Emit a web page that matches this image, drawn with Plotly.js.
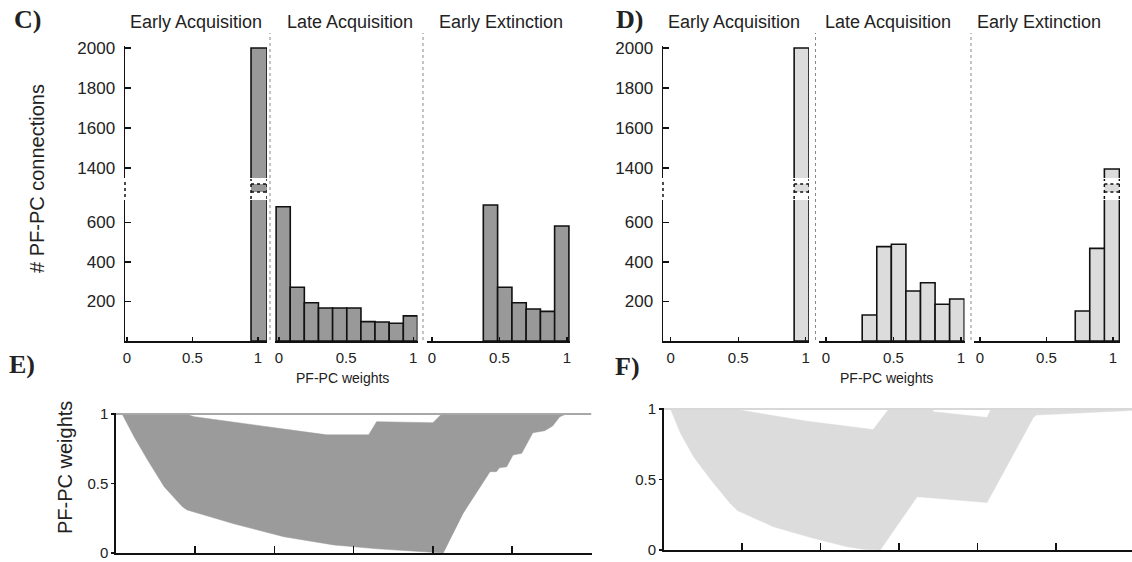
<!DOCTYPE html>
<html><head><meta charset="utf-8">
<script src="https://cdn.plot.ly/plotly-3.0.1.min.js"></script>
<style>html,body{margin:0;padding:0;background:#fff}</style>
</head><body><div id="chart" style="width:1132px;height:562px"></div>
<script>
// ---------------- DATA ----------------
const phaseNames = ['Early Acquisition', 'Late Acquisition', 'Early Extinction'];
const weightTicks = [0, 0.5, 1];
const weightTickText = ['0', '0.5', '1'];
const countTicksLow = [200, 400, 600];
const countTicksHigh = [1400, 1600, 1800, 2000];
const weightAxisTitle = 'PF-PC weights';
const countAxisTitle = '# PF-PC connections';
const panelLetters = ['C)', 'D)', 'E)', 'F)'];

// Panel C histograms (bin centre, count)
const cEarlyAcqBins = [1.008];
const cEarlyAcqCounts = [2000];
const cLateAcqBins = [0.031, 0.136, 0.241, 0.347, 0.452, 0.558, 0.663, 0.768, 0.874, 0.979];
const cLateAcqCounts = [680, 272, 194, 167, 167, 167, 98, 96, 90, 127];
const cEarlyExtBins = [0.433, 0.539, 0.645, 0.750, 0.856, 0.961];
const cEarlyExtCounts = [689, 272, 194, 162, 150, 582];

// Panel D histograms
const dEarlyAcqBins = [0.969];
const dEarlyAcqCounts = [2000];
const dLateAcqBins = [0.322, 0.430, 0.538, 0.646, 0.754, 0.862, 0.970];
const dLateAcqCounts = [132, 478, 490, 253, 295, 186, 213];
const dEarlyExtBins = [0.773, 0.882, 0.992];
const dEarlyExtCounts = [152, 469, 1395];

// Panel E: envelope of weight trajectories over time
const eUpperT = [0.08, 0.88, 0.99, 1.91, 2.66, 3.19, 3.29, 4.00, 4.11, 5.68];
const eUpperW = [1.00, 1.00, 0.98, 0.91, 0.85, 0.85, 0.945, 0.937, 1.00, 1.00];
const eLowerT = [0.08, 0.23, 0.40, 0.61, 0.84, 0.90, 1.49, 2.12, 2.75, 3.30, 3.58, 4.13, 4.38, 4.72, 4.80, 4.84, 4.93, 5.01, 5.12, 5.26, 5.41, 5.51, 5.60, 5.68];
const eLowerW = [1.00, 0.837, 0.67, 0.477, 0.333, 0.31, 0.21, 0.117, 0.058, 0.03, 0.02, 0.0, 0.285, 0.585, 0.585, 0.614, 0.62, 0.705, 0.717, 0.865, 0.88, 0.914, 0.98, 1.00];

// Panel F
const fUpperT = [0.09, 0.89, 1.83, 2.67, 2.87, 3.42, 3.44, 4.12, 4.17, 5.97];
const fUpperW = [1.00, 1.00, 0.913, 0.854, 1.00, 1.00, 0.98, 0.94, 1.00, 1.00];
const fLowerT = [0.09, 0.215, 0.385, 0.60, 0.85, 0.94, 1.40, 1.91, 2.34, 2.55, 2.76, 3.23, 4.12, 4.71, 4.75, 5.30, 5.97];
const fLowerW = [1.00, 0.83, 0.66, 0.50, 0.33, 0.28, 0.165, 0.083, 0.023, 0.005, 0.0, 0.378, 0.336, 0.94, 0.957, 0.97, 0.99];
const timeTicks = [1, 2, 3, 4, 5, 6];

// ---------------- LAYOUT HELPERS ----------------
const W = 1132, H = 562;
const px = x => x / W;
const py = y => 1 - y / H;
const FONT = 'Liberation Sans, Arial, Helvetica, sans-serif';
const INK = '#111';
const TXT = '#222';
const DARK = '#999999', LIGHT = '#dcdcdc';

const LOW = {top: 200, bot: 341, max: 714};
const HIGH = {top: 46.4, bot: 178, min: 1350, max: 2008};

const hists = [
  {bins: cEarlyAcqBins, n: cEarlyAcqCounts, xa: 'x',  a: 125, b: 267,   range: [-0.015, 1.069], w: 0.122, fill: DARK,  yl: 'y',  yh: 'y2', t: 0, tx: 196},
  {bins: cLateAcqBins,  n: cLateAcqCounts,  xa: 'x2', a: 275, b: 417.5, range: [-0.030, 1.032], w: 0.1054, fill: DARK, yl: 'y',  yh: 'y2', t: 1, tx: 350},
  {bins: cEarlyExtBins, n: cEarlyExtCounts, xa: 'x3', a: 427, b: 570,   range: [-0.037, 1.022], w: 0.106, fill: DARK,  yl: 'y',  yh: 'y2', t: 2, tx: 501},
  {bins: dEarlyAcqBins, n: dEarlyAcqCounts, xa: 'x4', a: 663, b: 809,   range: [-0.057, 1.024], w: 0.11,  fill: LIGHT, yl: 'y3', yh: 'y4', t: 0, tx: 734.5},
  {bins: dLateAcqBins,  n: dLateAcqCounts,  xa: 'x5', a: 819, b: 964.5, range: [-0.052, 1.026], w: 0.108, fill: LIGHT, yl: 'y3', yh: 'y4', t: 1, tx: 887.5},
  {bins: dEarlyExtBins, n: dEarlyExtCounts, xa: 'x6', a: 974, b: 1120,  range: [-0.045, 1.053], w: 0.113, fill: LIGHT, yl: 'y3', yh: 'y4', t: 2, tx: 1038.5}
];

const traces = [];
const shapes = [];
const annotations = [];
const layout = {
  width: W, height: H,
  margin: {l: 0, r: 0, t: 0, b: 0},
  paper_bgcolor: '#fff', plot_bgcolor: 'rgba(0,0,0,0)',
  showlegend: false, barmode: 'overlay', bargap: 0,
  font: {family: FONT, color: TXT, size: 15},
  hovermode: false
};

const axName = id => id === 'x' ? 'xaxis' : id === 'y' ? 'yaxis' : (id[0] + 'axis' + id.slice(1));

hists.forEach(h => {
  const base = {
    type: 'bar', x: h.bins, y: h.n, width: h.w, xaxis: h.xa,
    marker: {color: h.fill, line: {color: INK, width: 1.6}},
    hoverinfo: 'skip', showlegend: false
  };
  traces.push(Object.assign({}, base, {yaxis: h.yl}));
  traces.push(Object.assign({}, base, {yaxis: h.yh}));

  layout[axName(h.xa)] = {
    domain: [px(h.a), px(h.b)], range: h.range, anchor: h.yl,
    showline: true, linecolor: INK, linewidth: 1.5,
    ticks: 'inside', ticklen: 4, tickcolor: INK, tickwidth: 1.2,
    tickvals: weightTicks, ticktext: weightTickText,
    tickfont: {size: 15, color: TXT}, ticklabelstandoff: 2,
    showgrid: false, zeroline: false, fixedrange: true
  };

  // axis-break markers on bars taller than the lower segment
  h.n.forEach((v, i) => {
    if (v > LOW.max) {
      const x0 = h.bins[i] - h.w / 2, x1 = h.bins[i] + h.w / 2;
      const dl = {color: INK, width: 1.5, dash: 'dot'};
      shapes.push({type: 'rect', xref: h.xa, yref: 'paper', x0: x0, x1: x1, y0: py(192), y1: py(184), fillcolor: h.fill, line: {width: 0}, layer: 'above'});
      [184, 192].forEach(yy => shapes.push({type: 'line', xref: h.xa, yref: 'paper', x0: x0, x1: x1, y0: py(yy), y1: py(yy), line: dl}));
      [x0, x1].forEach(xx => shapes.push({type: 'line', xref: h.xa, yref: 'paper', x0: xx, x1: xx, y0: py(199), y1: py(179), line: dl}));
    }
  });

  annotations.push({xref: 'paper', yref: 'paper', x: px(h.tx), y: py(22), text: phaseNames[h.t],
    showarrow: false, xanchor: 'center', yanchor: 'middle', font: {size: 18, color: TXT}});
});

// count axes (split)
function countAxes(lowId, highId, anchor) {
  const common = {anchor: anchor, showline: true, linecolor: INK, linewidth: 1.5,
    ticks: 'inside', ticklen: 6, tickcolor: INK, tickwidth: 1.2,
    tickfont: {size: 17, color: TXT}, ticklabelstandoff: 5,
    showgrid: false, zeroline: false, fixedrange: true};
  layout[axName(lowId)] = Object.assign({}, common, {domain: [py(LOW.bot), py(LOW.top)], range: [0, LOW.max], tickvals: countTicksLow});
  layout[axName(highId)] = Object.assign({}, common, {domain: [py(HIGH.bot), py(HIGH.top)], range: [HIGH.min, HIGH.max], tickvals: countTicksHigh});
}
countAxes('y', 'y2', 'x');
countAxes('y3', 'y4', 'x4');

// y-axis break dots
[125, 663].forEach(xx => shapes.push({type: 'line', xref: 'paper', yref: 'paper', x0: px(xx), x1: px(xx), y0: py(197), y1: py(181), line: {color: INK, width: 1.5, dash: 'dot'}}));

// dotted separators between phases
[270, 423, 815.5, 971].forEach(xx => shapes.push({type: 'line', xref: 'paper', yref: 'paper', x0: px(xx), x1: px(xx), y0: py(340), y1: py(33), line: {color: '#888', width: 1, dash: 'dot'}}));

// ---- Panels E and F ----
function envelope(ut, uw, lt, lw) {
  return {x: ut.concat(lt.slice().reverse()), y: uw.concat(lw.slice().reverse())};
}
const eEnv = envelope(eUpperT, eUpperW, eLowerT, eLowerW);
const fEnv = envelope(fUpperT, fUpperW, fLowerT, fLowerW);

traces.push({type: 'scatter', mode: 'lines', x: eEnv.x, y: eEnv.y, fill: 'toself', fillcolor: '#9b9b9b',
  line: {color: '#9b9b9b', width: 0.5}, xaxis: 'x7', yaxis: 'y5', hoverinfo: 'skip'});
traces.push({type: 'scatter', mode: 'lines', x: [0, 6], y: [1, 1],
  line: {color: '#a8a8a8', width: 2}, xaxis: 'x7', yaxis: 'y5', hoverinfo: 'skip'});
traces.push({type: 'scatter', mode: 'lines', x: fEnv.x, y: fEnv.y, fill: 'toself', fillcolor: '#dcdcdc',
  line: {color: '#dcdcdc', width: 0.5}, xaxis: 'x8', yaxis: 'y6', hoverinfo: 'skip'});
traces.push({type: 'scatter', mode: 'lines', x: [0, 6], y: [1, 1],
  line: {color: '#d8d8d8', width: 2}, xaxis: 'x8', yaxis: 'y6', hoverinfo: 'skip'});

function timeAxes(xId, yId, a, b, range, yBot, yTop) {
  layout[axName(xId)] = {domain: [px(a), px(b)], range: range, anchor: yId,
    showline: true, linecolor: INK, linewidth: 1.5, ticks: 'inside', ticklen: 7, tickcolor: INK, tickwidth: 1.5,
    tickvals: timeTicks, showticklabels: false, showgrid: false, zeroline: false, fixedrange: true};
  layout[axName(yId)] = {domain: [py(yBot), py(yTop)], range: [0, 1.01], anchor: xId,
    showline: true, linecolor: INK, linewidth: 1.5, ticks: 'outside', ticklen: 3, tickcolor: INK, tickwidth: 1.2,
    tickvals: weightTicks, ticktext: weightTickText, tickfont: {size: 15, color: TXT}, ticklabelstandoff: 0,
    showgrid: false, zeroline: false, fixedrange: true};
}
timeAxes('x7', 'y5', 115.8, 591.5, [0, 6], 553, 414 - 0.01 * 139);
timeAxes('x8', 'y6', 663.5, 1132, [0, 5.966], 550, 409 - 0.01 * 141);

// ---- text annotations ----
const letterPos = [[27, 19], [629, 19], [22, 364], [628, 366]];
panelLetters.forEach((t, i) => annotations.push({xref: 'paper', yref: 'paper', x: px(letterPos[i][0]), y: py(letterPos[i][1]),
  text: '<b>' + t + '</b>', showarrow: false, xanchor: 'center', yanchor: 'middle',
  font: {family: 'Liberation Serif, Times New Roman, serif', size: 26, color: TXT}}));

annotations.push({xref: 'paper', yref: 'paper', x: px(37), y: py(179), text: countAxisTitle, textangle: -90,
  showarrow: false, xanchor: 'center', yanchor: 'middle', font: {size: 20, color: TXT}});
annotations.push({xref: 'paper', yref: 'paper', x: px(65), y: py(468), text: weightAxisTitle, textangle: -90,
  showarrow: false, xanchor: 'center', yanchor: 'middle', font: {size: 20, color: TXT}});
[342, 886.5].forEach(xx => annotations.push({xref: 'paper', yref: 'paper', x: px(xx), y: py(378), text: weightAxisTitle,
  showarrow: false, xanchor: 'center', yanchor: 'middle', font: {size: 14, color: TXT}}));

layout.shapes = shapes;
layout.annotations = annotations;

Plotly.newPlot('chart', traces, layout, {staticPlot: true, displayModeBar: false});
</script>
</body></html>
